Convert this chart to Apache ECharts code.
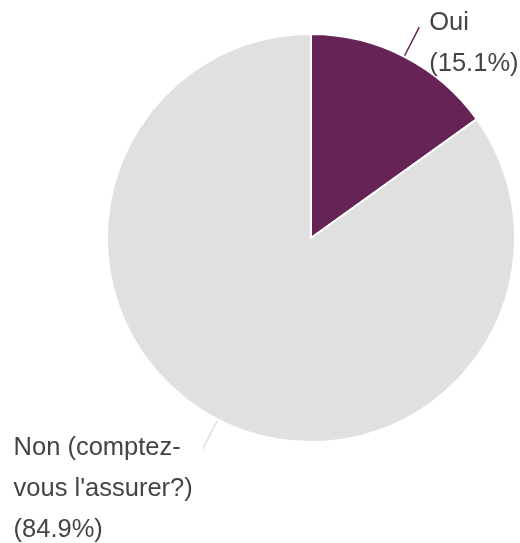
<!DOCTYPE html>
<html>
<head>
<meta charset="utf-8">
<script src="https://cdn.jsdelivr.net/npm/echarts@6/dist/echarts.min.js"></script>
<style>html,body{margin:0;padding:0;background:#fff}#c{width:520px;height:543px}</style>
</head>
<body>
<div id="c"></div>
<script>
var categories = ["Oui", "Non (comptez-\nvous l'assurer?)"];
var values = [15.1, 84.9];
var colors = ['#652356', '#e0e0e0'];
var labelShift = [32, 80];

var chart = echarts.init(document.getElementById('c'), null, {renderer: 'canvas'});
chart.setOption({
  animation: false,
  series: [{
    type: 'pie',
    center: [311, 238],
    radius: 204,
    startAngle: 90,
    clockwise: true,
    avoidLabelOverlap: false,
    itemStyle: {borderColor: '#fff', borderWidth: 2},
    label: {
      show: true,
      position: 'outside',
      alignTo: 'none',
      distanceToLabelLine: 10,
      formatter: function (p) {
        return p.name.split('\n').concat(['(' + p.value.toFixed(1) + '%)']).map(function (s) { return '{t|' + s + '}'; }).join('\n');
      },
      rich: {
        t: {fontFamily: 'Liberation Sans, Arial, sans-serif', fontSize: 25.5, color: '#444', lineHeight: 41, align: 'left'}
      }
    },
    labelLine: {show: true, length: 33, length2: 0, smooth: false, lineStyle: {width: 1.5}},
    data: categories.map(function (c, i) {
      return {
        name: c, value: values[i],
        itemStyle: {color: colors[i]},
        label: {padding: [labelShift[i], 0, 0, 0]}
      };
    })
  }]
});
</script>
</body>
</html>
